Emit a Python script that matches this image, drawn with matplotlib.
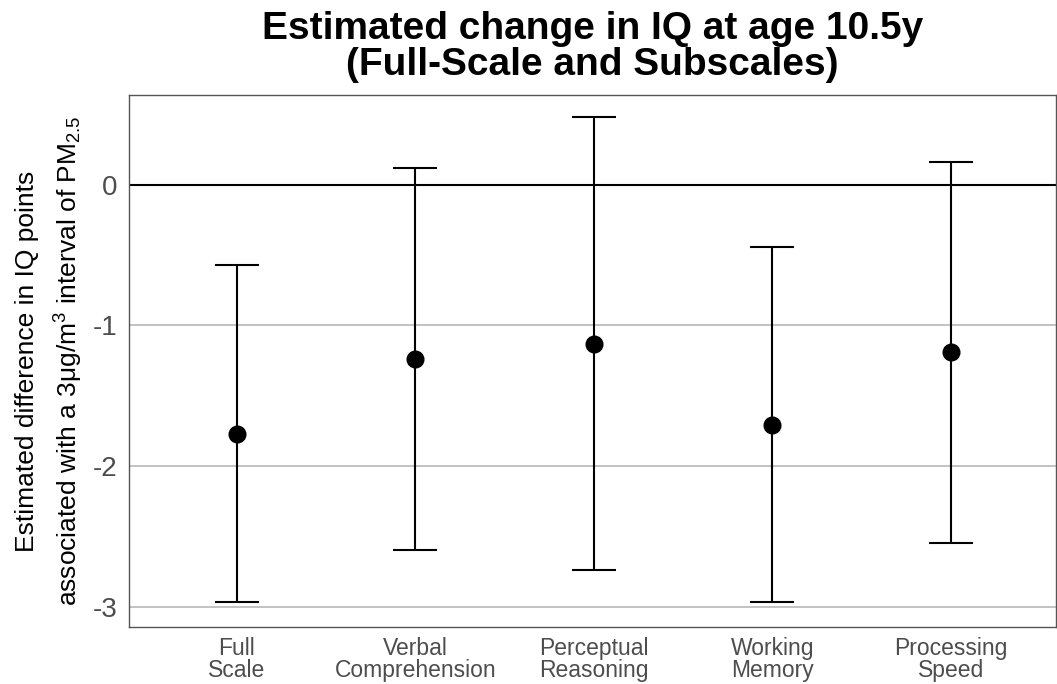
import matplotlib
matplotlib.use("Agg")
import matplotlib.pyplot as plt

plt.rcParams['font.family'] = ['Liberation Sans', 'DejaVu Sans']
plt.rcParams['mathtext.fontset'] = 'custom'
plt.rcParams['mathtext.rm'] = 'Liberation Sans'
plt.rcParams['mathtext.it'] = 'Liberation Sans:italic'
plt.rcParams['mathtext.bf'] = 'Liberation Sans:bold'

# IQ change estimates with 95% CI
categories = ["Full\nScale", "Verbal\nComprehension", "Perceptual\nReasoning",
              "Working\nMemory", "Processing\nSpeed"]
estimate = [-1.77, -1.24, -1.13, -1.71, -1.19]
lower = [-2.97, -2.60, -2.74, -2.97, -2.55]
upper = [-0.57, 0.12, 0.48, -0.44, 0.16]

x = list(range(1, len(categories) + 1))
err_lo = [e - l for e, l in zip(estimate, lower)]
err_hi = [u - e for e, u in zip(estimate, upper)]

fig = plt.figure(figsize=(10.57, 6.84), dpi=100)
ax = fig.add_axes([0.122, 0.0833, 0.877, 0.778])

for yv in [-1, -2, -3]:
    ax.axhline(yv, color='#bdbdbd', lw=1.3, zorder=0)
ax.axhline(0, color='black', lw=1.5, zorder=1)

ax.errorbar(x, estimate, yerr=[err_lo, err_hi], fmt='o', color='black',
            ecolor='black', elinewidth=1.5, capsize=16, capthick=1.5,
            markersize=12, zorder=3)

ax.set_xlim(0.395, 5.59)
ax.set_ylim(-3.146, 0.641)
ax.set_yticks([0, -1, -2, -3])
ax.set_yticklabels(['0', '-1', '-2', '-3'])
ax.set_xticks(x)
ax.set_xticklabels(categories, linespacing=0.95)
ax.tick_params(axis='both', length=0, colors='#4d4d4d')
ax.tick_params(axis='y', labelsize=20, pad=8)
ax.tick_params(axis='x', labelsize=16.5, pad=7)

for s in ax.spines.values():
    s.set_color('#555555')
    s.set_linewidth(1.0)

ax.set_ylabel("Estimated difference in IQ points\n"
              "associated with a 3\u03bcg/m$^3$ interval of PM$_{2.5}$",
              fontsize=19, labelpad=6, linespacing=1.55)
ax.set_title("Estimated change in IQ at age 10.5y\n(Full-Scale and Subscales)",
             fontsize=28, fontweight='bold', pad=14, linespacing=1.0)

fig.savefig("out.png", dpi=100)
